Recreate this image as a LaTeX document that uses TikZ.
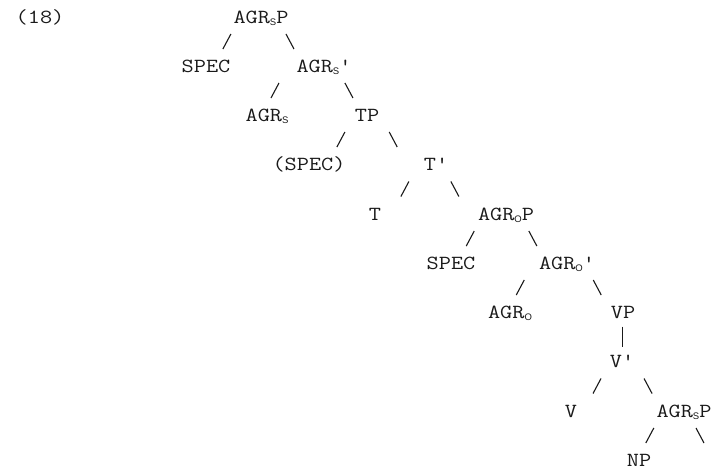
\documentclass[tikz,border=0pt]{standalone}
\usepackage{fontspec}
\usepackage{tikz}
\usetikzlibrary{calc}
\setmonofont{Latin Modern Mono}[FakeStretch=1.18]
\newfontfamily\subfont{Liberation Sans}
\definecolor{TreeInk}{HTML}{1A1A1A}
\newcommand{\agrsub}[1]{\raisebox{-2pt}{\subfont\fontsize{9.5}{9.5}\selectfont #1}}
\newcommand{\lbranch}[3]{\draw[branch] let \p1=($(#1)!#3!(#2)$), \p2=($(#1)!.5!(#2)$) in
    (\x1+4pt,\y2+7.5pt) -- (\x1-4pt,\y2-7.5pt);}
\newcommand{\rbranch}[3]{\draw[branch] let \p1=($(#1)!#3!(#2)$), \p2=($(#1)!.5!(#2)$) in
    (\x1-4pt,\y2+7.5pt) -- (\x1+4pt,\y2-7.5pt);}
\newcommand{\vbranch}[2]{\draw[branch] ($(#1)!.5!(#2)$) ++(0,-10) -- ++(0,20);}

\begin{document}
\begin{tikzpicture}[x=1pt, y=-1pt,
    cat/.style={inner sep=0pt, text height=12pt, text depth=0pt, text=TreeInk,
                font=\ttfamily\fontsize{20}{20}\selectfont},
    branch/.style={draw=TreeInk, line width=1.1pt}]
\useasboundingbox (0,0) rectangle (717,469);
\node[cat] (num) at (40,17) {(18)};
\node[cat] (agrsp) at (261,17) {AGR\agrsub{S}P};
\node[cat] (spec) at (206,66) {SPEC};
\node[cat] (agrsbar) at (324,66) {AGR\agrsub{S}'};
\node[cat] (agrs) at (267,115) {AGR\agrsub{S}};
\node[cat] (tp) at (367,115) {TP};
\node[cat] (tspec) at (309,164) {(SPEC)};
\node[cat] (tbar) at (436,164) {T'};
\node[cat] (t) at (375,214) {T};
\node[cat] (agrop) at (506,214) {AGR\agrsub{O}P};
\node[cat] (ospec) at (451,263) {SPEC};
\node[cat] (agrobar) at (567,263) {AGR\agrsub{O}'};
\node[cat] (agro) at (510,312) {AGR\agrsub{O}};
\node[cat] (vp) at (623,312) {VP};
\node[cat] (vbar) at (622,361) {V'};
\node[cat] (v) at (571,411) {V};
\node[cat] (lowagrsp) at (684,411) {AGR\agrsub{S}P};
\node[cat] (np) at (639,460) {NP};
\coordinate (gap) at (716,460);

\lbranch{agrsp}{spec}{.62}
\rbranch{agrsp}{agrsbar}{.46}
\lbranch{agrsbar}{agrs}{.86}
\rbranch{agrsbar}{tp}{.58}
\lbranch{tp}{tspec}{.45}
\rbranch{tp}{tbar}{.38}
\lbranch{tbar}{t}{.51}
\rbranch{tbar}{agrop}{.27}
\lbranch{agrop}{ospec}{.65}
\rbranch{agrop}{agrobar}{.44}
\lbranch{agrobar}{agro}{.82}
\rbranch{agrobar}{vp}{.54}
\vbranch{vp}{vbar}
\lbranch{vbar}{v}{.49}
\rbranch{vbar}{lowagrsp}{.42}
\lbranch{lowagrsp}{np}{.76}
\rbranch{lowagrsp}{gap}{.5}
\end{tikzpicture}
\end{document}
